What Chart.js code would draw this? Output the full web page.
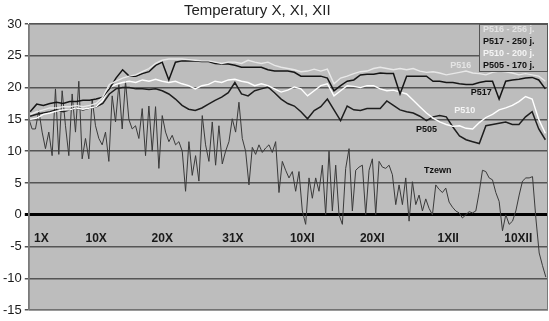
<!DOCTYPE html>
<html>
<head>
<meta charset="utf-8">
<script src="https://cdn.jsdelivr.net/npm/chart.js@4.4.1/dist/chart.umd.min.js"></script>
<style>
  html, body { margin: 0; padding: 0; background: #fff; }
</style>
</head>
<body>
<canvas id="myChart" width="549" height="321"></canvas>
<script>
// data (x = days from 1 Oct)

const chartTitle = "Temperatury X, XI, XII";
const seriesNames = ["P516", "P517", "P510", "P505"];
const legendText = ["P516 - 256 j.", "P517 - 250 j.", "P510 - 200 j.", "P505 - 170 j."];

const tickDays = [0.7, 9, 19, 29.7, 40.2, 50.8, 62.3, 72.9];
const tickLabels = ["1X", "10X", "20X", "31X", "10XI", "20XI", "1XII", "10XII"];

// daily values, starting at day -1
const stationStart = -1;
const stationStep = 1;

const p516 = [
     15.8, 16.2, 16.5, 16.8, 16.8, 17, 17, 17.2, 17, 17.2,
     17.5, 18.5, 20.5, 21, 21.5, 21.8, 22, 22.5, 23, 23.8,
     24.3, 24.5, 24.5, 24.5, 24.4, 24.3, 24.2, 24.2, 24, 23.8,
     24, 24, 23.8, 24.3, 24, 23.8, 24, 23.5, 23.2, 23,
     22.8, 22.5, 22.6, 22.9, 22.6, 22.9, 20.6, 21.5, 21.8, 22.2,
     22.5, 22.6, 23, 23.2, 23, 22.8, 23, 22.8, 23, 22.6,
     22.4, 22.5, 22.3, 22, 22.2, 22.4, 22.6, 22.3, 22.2, 22,
     22.4, 22.6, 22.5, 22.3, 22, 22.2, 22, 21.8, 21
];
const p517 = [
     16.2, 17.4, 17.2, 17.5, 17.7, 17.5, 17.8, 17.8, 18, 18,
     18.2, 18.5, 19.8, 21.5, 22.8, 21.8, 21.8, 22.2, 22.5, 23.5,
     24, 21.2, 24, 24.2, 24.2, 24.2, 24.1, 24.1, 23.8, 23.7,
     23.7, 23.5, 23.2, 23.2, 23.2, 23.2, 22.8, 22.6, 22.6, 22.6,
     22.4, 21.8, 21.8, 21.8, 21.8, 21.5, 19.5, 20.3, 21, 21.2,
     22, 22.1, 22.1, 22.3, 22.2, 22.2, 19, 21.8, 21.8, 21.8,
     21.8, 21, 21, 20.8, 20.8, 20.6, 20.5, 20.5, 20.8, 21,
     21, 18.2, 21, 21.2, 21.3, 21.5, 21.6, 21.2, 19.8
];
const p510 = [
     15, 15.2, 15.8, 16, 16.3, 16.5, 16.5, 16.8, 16.6, 16.8,
     17, 18, 20, 20.5, 20.8, 21, 20.8, 21.2, 21, 21.3,
     21, 20.8, 21, 20.6, 20.3, 19.8, 20.3, 20.5, 21, 20.8,
     21.2, 21.3, 21, 20.8, 20.3, 20.6, 20.3, 19.8, 19.3, 19.6,
     20.1, 19.8, 18.7, 19.5, 20.3, 20.6, 18.7, 19.5, 20.3, 20.2,
     20, 20.3, 20.3, 19.8, 19.5, 19.6, 19.3, 19, 18, 17,
     16, 15.2, 14.6, 14.2, 13.9, 14, 13.6, 13.5, 14.5, 15.3,
     15.8, 16.5, 16.8, 17.2, 17.8, 18.6, 18.2, 15, 12.8
];
const p505 = [
     15.5, 15.8, 16, 16.2, 16.5, 16.2, 16.5, 16.8, 16.5, 16.8,
     17, 17.5, 19, 19.8, 20, 20, 19.8, 19.8, 19.7, 19.8,
     19.5, 19, 18.2, 17.2, 16.6, 16.4, 16.8, 17.4, 18, 18.5,
     19.2, 20.8, 19, 18.7, 19.5, 19.8, 20.1, 19.2, 18.2, 17.5,
     17.1, 16.2, 15.1, 16.4, 17, 18.2, 16.5, 14.8, 17.1, 16.5,
     16.4, 16.7, 16.7, 16.7, 17.9, 17.2, 16.5, 16.2, 16, 15.5,
     14.8, 15.4, 15.6, 15.4, 13.8, 12.4, 11.8, 11.5, 11.2, 14,
     14.2, 14.4, 14.6, 14.2, 14.2, 15.4, 16.2, 13.5, 11.8
];

// outside air, twice a day
const tzStart = -1.2;
const tzStep = 0.505;
const tzewn = [
     15.1, 13.5, 13.5, 16.4, 13, 10.4, 13, 9.3, 19.8, 9.5,
     19.5, 14, 9.3, 19, 13, 21, 8.8, 12, 8.8, 18.2,
     14, 12, 11, 13, 8.4, 18.7, 14.6, 20.5, 13.5, 21,
     15, 13.5, 14, 12, 16.7, 9.3, 17.1, 10, 17, 7.3,
     15.6, 13, 11.5, 12.5, 11, 11.5, 10, 3.7, 11.5, 6.2,
     9.3, 5.3, 15.6, 11, 8.4, 14.6, 7.8, 14, 8, 10,
     11.5, 15.1, 13, 17.7, 12, 10, 4.7, 10.6, 9.5, 11,
     9.8, 10.5, 11, 9.8, 11.5, 3.5, 8.4, 7, 5.8, 6.8,
     3.7, 6.8, 0.6, -1.5, 5.8, 2.6, 5.8, 3.7, 7.8, 0,
     10, 0.6, 7.8, 0, -1.5, 7.3, 10.4, 0.6, 7, 7.5,
     7.8, 0, 7, 8.8, 0, 8.4, 7.5, 7.3, 7.8, 6.3,
     1.6, 4.7, 1.6, 5.8, -1, 5.2, 1.6, 3.1, 0.6, 2.5,
     1, 0, 4.7, 4, 3.5, 4.2, 2, 1.2, 0.6, 0.3,
     -0.5, 0, 0.5, 0.3, 0.6, 3.5, 7, 6.8, 5.8, 5.5,
     3.5, 2.1, -2.5, 0, -1.5, -1, 0.6, 3.1, 5.3, 5.8,
     5.8, 6, -0.5, -6, -8, -9.8
];

// where the small names sit on the plot: [day, temperature]
const inlineLabels = [
     { text: "P516", day: 64.2, temp: 23.5, color: "#e4e4e4" },
     { text: "P517", day: 67.3, temp: 19.2, color: "#111" },
     { text: "P510", day: 64.8, temp: 16.4, color: "#f4f4f4" },
     { text: "P505", day: 59, temp: 13.4, color: "#111" },
     { text: "Tzewn", day: 60.7, temp: 6.9, color: "#111" }
];
const legendColors = ["#e4e4e4", "#111", "#f4f4f4", "#111"];

function toPoints(values, start, step) {
     return values.map((v, i) => ({ x: start + i * step, y: v }));
}

const plotBg = "#bdbdbd";
const font = "'Liberation Sans', Arial, sans-serif";

const backdrop = {
     id: "backdrop",
     beforeDraw(chart) {
          const { ctx, chartArea: a } = chart;
          ctx.save();
          ctx.fillStyle = "#fff";
          ctx.fillRect(0, 0, chart.width, chart.height);
          ctx.fillStyle = plotBg;
          ctx.fillRect(a.left, a.top, a.right - a.left, a.bottom - a.top);
          ctx.restore();
     },
     afterDatasetsDraw(chart) {
          const { ctx, chartArea: a, scales } = chart;
          ctx.save();
          // frame
          ctx.strokeStyle = "#7a7a7a";
          ctx.lineWidth = 1;
          ctx.strokeRect(a.left + 0.5, a.top + 0.5, a.right - a.left - 1, a.bottom - a.top - 1);

          // legend box
          const bx = a.right - 69, by = a.top, bw = 69, bh = 48;
          ctx.fillStyle = plotBg;
          ctx.fillRect(bx, by, bw, bh);
          ctx.strokeStyle = "#555";
          ctx.strokeRect(bx + 0.5, by + 0.5, bw - 1, bh - 1);
          ctx.font = "bold 9px " + font;
          ctx.textBaseline = "middle";
          ctx.textAlign = "left";
          legendText.forEach((t, i) => {
               ctx.fillStyle = legendColors[i];
               ctx.fillText(t, bx + 4, by + 6 + i * 12);
          });

          // names on the lines
          ctx.textAlign = "center";
          inlineLabels.forEach((l) => {
               ctx.fillStyle = l.color;
               ctx.fillText(l.text, scales.x.getPixelForValue(l.day), scales.y.getPixelForValue(l.temp));
          });

          // title
          ctx.font = "15px " + font;
          ctx.fillStyle = "#222";
          ctx.fillText(chartTitle, a.left + (a.right - a.left) * 0.44, 11);
          ctx.restore();
     }
};

const ctx = document.getElementById("myChart").getContext("2d");

var chart = new Chart(ctx, {
     type: "line",
     data: {
          datasets: [
               { label: seriesNames[0], data: toPoints(p516, stationStart, stationStep), borderColor: "#e8e8e8", borderWidth: 1.4 },
               { label: seriesNames[1], data: toPoints(p517, stationStart, stationStep), borderColor: "#151515", borderWidth: 1.5 },
               { label: seriesNames[2], data: toPoints(p510, stationStart, stationStep), borderColor: "#ffffff", borderWidth: 1.4 },
               { label: seriesNames[3], data: toPoints(p505, stationStart, stationStep), borderColor: "#1e1e1e", borderWidth: 1.5 },
               { label: "Tzewn", data: toPoints(tzewn, tzStart, tzStep), borderColor: "#3a3a3a", borderWidth: 1 }
          ]
     },
     options: {
          responsive: false,
          animation: false,
          events: [],
          layout: { padding: { top: 24, right: 1, bottom: 0, left: 0 } },
          elements: { point: { radius: 0 }, line: { tension: 0 } },
          plugins: {
               legend: { display: false },
               title: { display: false },
               tooltip: { enabled: false }
          },
          scales: {
               x: {
                    type: "linear",
                    min: -1.2,
                    max: 77.4,
                    position: { y: 0 },
                    grid: { display: false },
                    border: { display: false },
                    afterBuildTicks: (axis) => {
                         axis.ticks = tickDays.map((v) => ({ value: v }));
                    },
                    ticks: {
                         autoSkip: false,
                         maxRotation: 0,
                         padding: 9,
                         color: "#1a1a1a",
                         font: { family: font, size: 12, weight: "bold" },
                         callback: (v, i) => tickLabels[i]
                    }
               },
               y: {
                    min: -15,
                    max: 30,
                    ticks: {
                         stepSize: 5,
                         padding: 3,
                         color: "#1a1a1a",
                         font: { family: font, size: 13 }
                    },
                    grid: {
                         color: (c) => (c.tick && c.tick.value === 0 ? "#000" : "#555"),
                         lineWidth: (c) => (c.tick && c.tick.value === 0 ? 3 : 1.5),
                         tickLength: 4
                    },
                    border: { color: "#7a7a7a" }
               }
          }
     },
     plugins: [backdrop]
});
</script>
</body>
</html>
